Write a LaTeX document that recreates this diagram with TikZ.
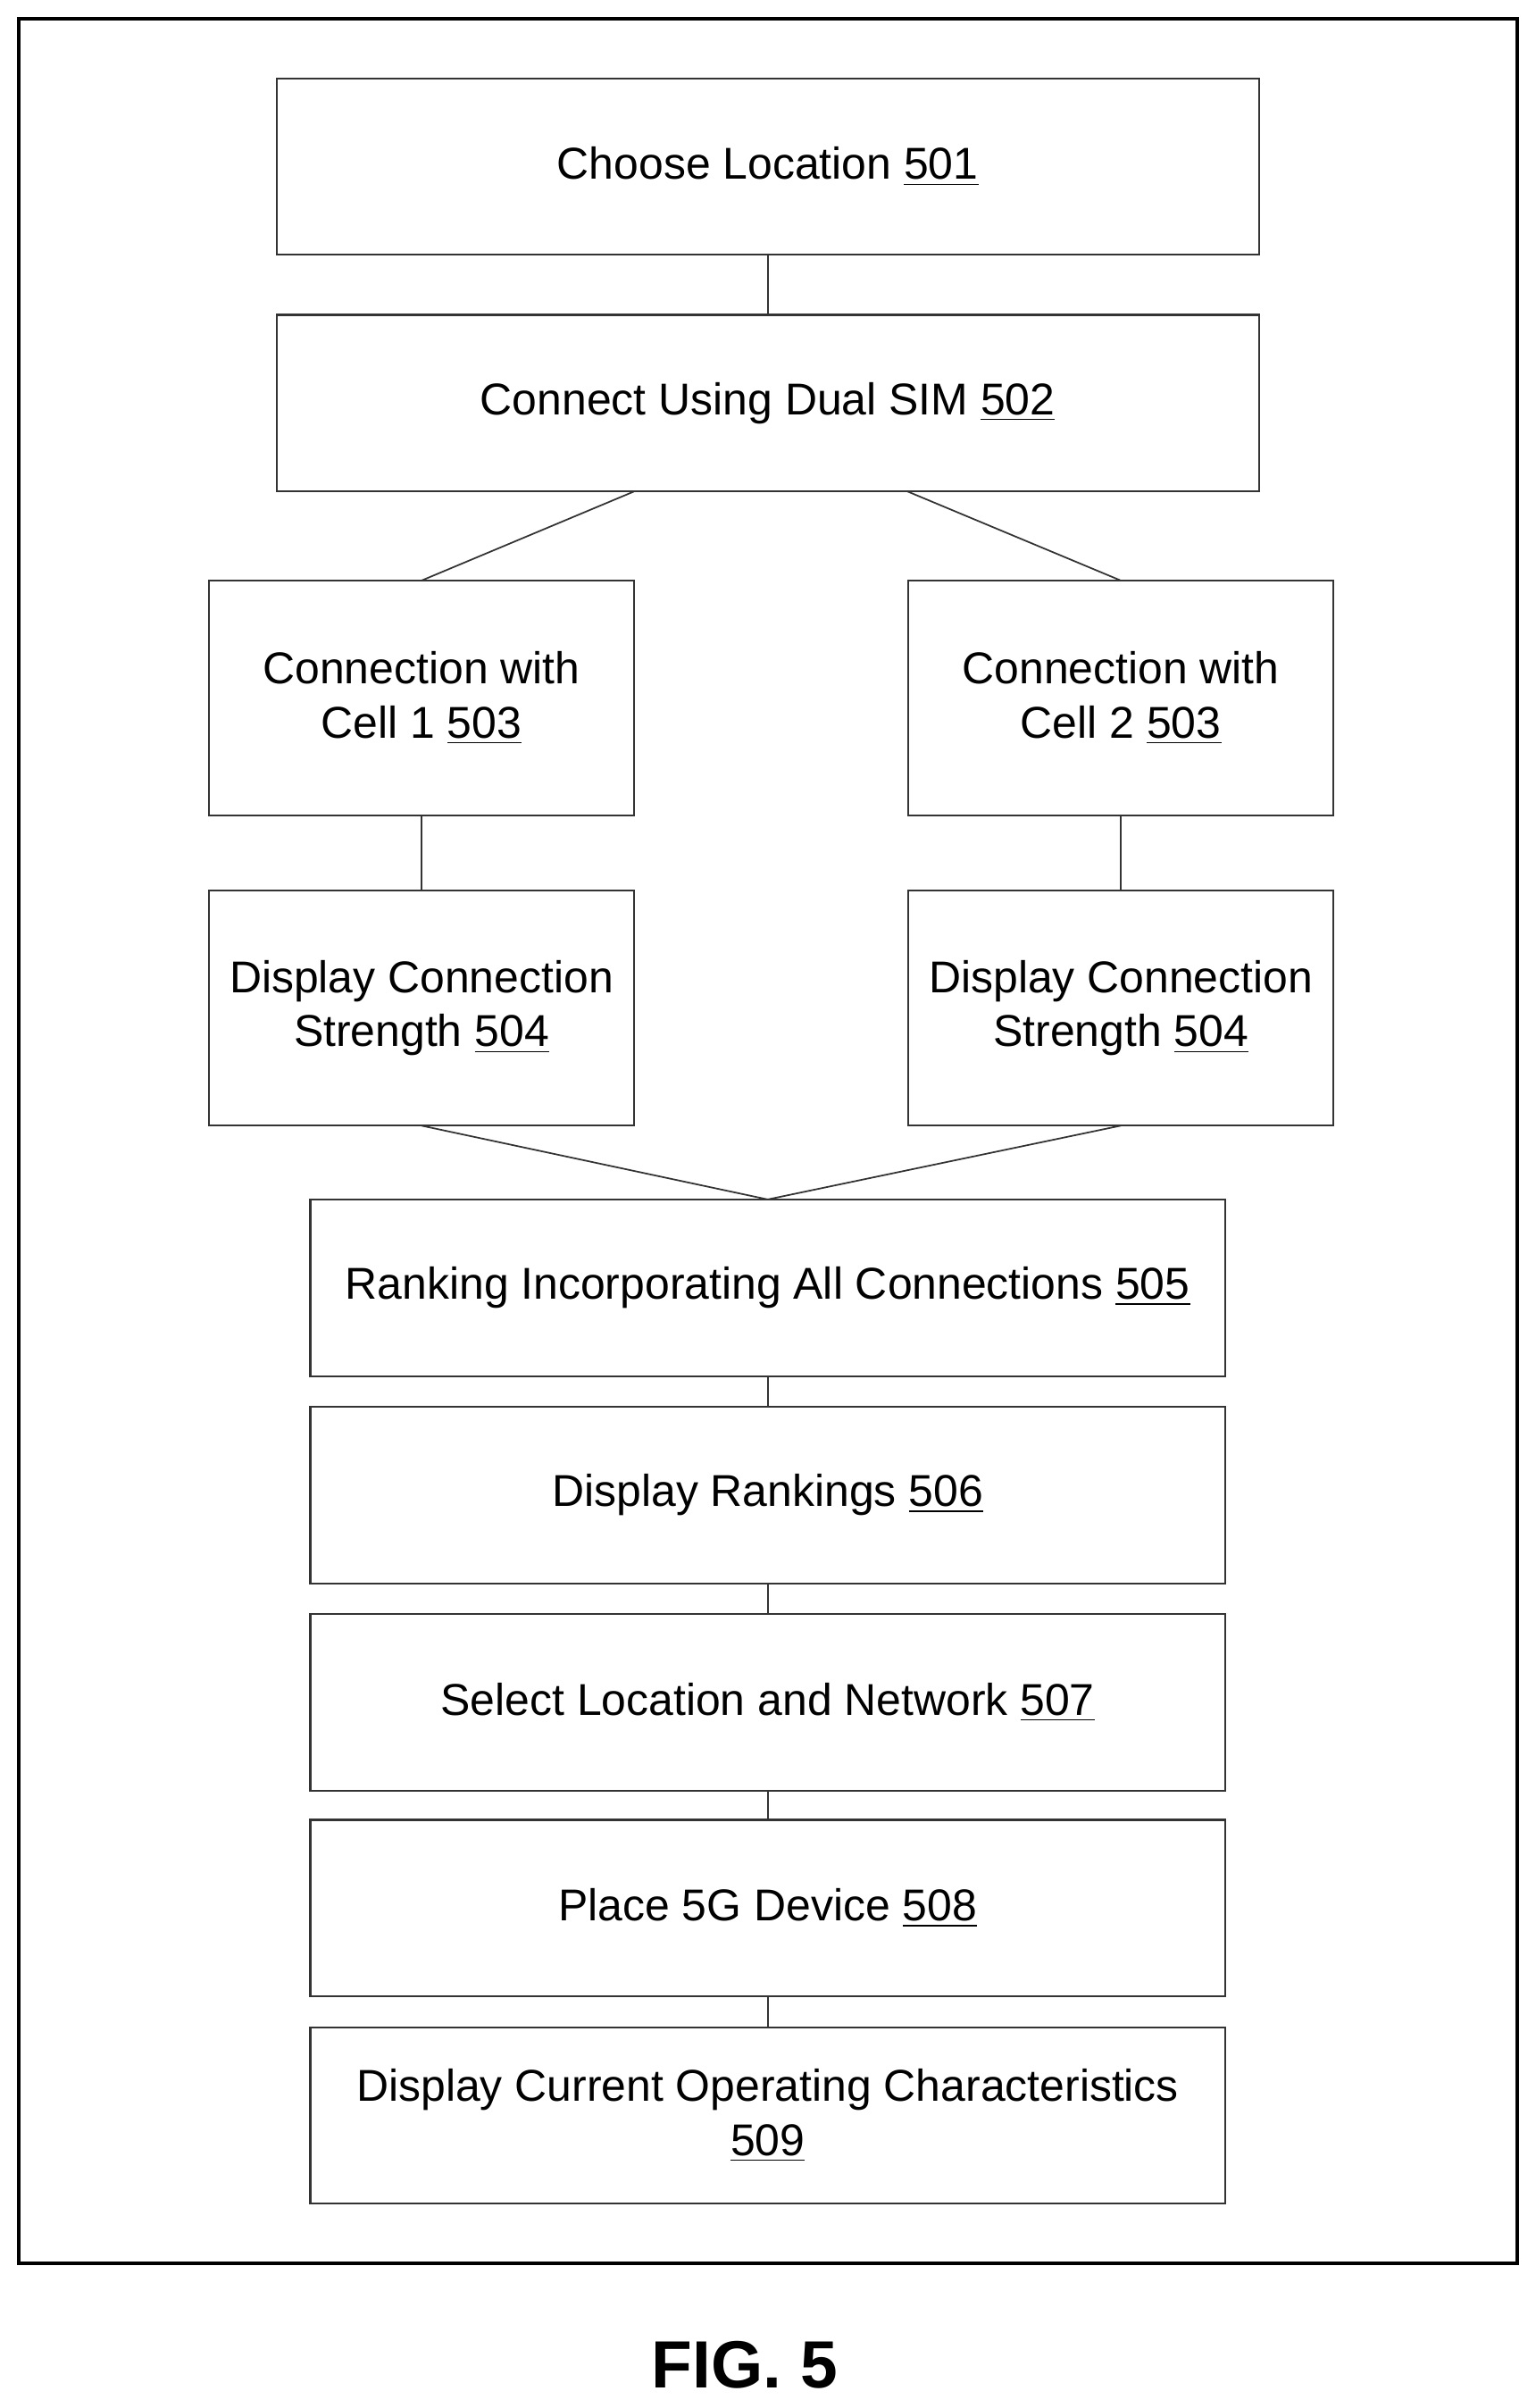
\documentclass[tikz,border=0pt]{standalone}
\usepackage{fontspec}
\setmainfont{Liberation Sans}
\usetikzlibrary{positioning}
\tikzset{
  stepbox/.style={rectangle, draw=black!80, line width=0.6pt, inner sep=0pt, outer sep=0pt,
    align=center, font=\fontsize{14.2}{17.2}\selectfont},
  wide/.style={stepbox, minimum width=11.0cm, minimum height=1.977cm},
  mid/.style={stepbox, minimum width=10.245cm, minimum height=1.977cm},
  half/.style={stepbox, minimum width=4.762cm, minimum height=2.63cm},
  link/.style={draw=black!80, line width=0.5pt}
}
\begin{document}
\begin{tikzpicture}[x=0.01719cm, y=-0.01719cm]
\useasboundingbox (0,0) rectangle (1000,1568);
\draw[line width=1.1pt] (12,12) rectangle (988,1474);

\node[wide] (choose) at (500,108.5) {Choose Location \underline{501}};
\node[wide] (dual) at (500,262.5) {Connect Using Dual SIM \underline{502}};
\node[half] (cellA) at (274.5,454.5) {Connection with\\Cell 1 \underline{503}};
\node[half] (cellB) at (730,454.5) {Connection with\\Cell 2 \underline{503}};
\node[half] (strA) at (274.5,656.5) {Display Connection\\Strength \underline{504}};
\node[half] (strB) at (730,656.5) {Display Connection\\Strength \underline{504}};
\node[mid] (rank) at (500,838.5) {Ranking Incorporating All Connections \underline{505}};
\node[mid] (show) at (500,973.5) {Display Rankings \underline{506}};
\node[mid] (select) at (500,1108.5) {Select Location and Network \underline{507}};
\node[mid] (place) at (500,1242.5) {Place 5G Device \underline{508}};
\node[mid] (oper) at (500,1377.5) {Display Current Operating Characteristics\\\underline{509}};

\coordinate (dualL) at (413,320);
\coordinate (dualR) at (591,320);

\draw[link] (choose) -- (dual);
\draw[link] (dualL) -- (cellA.north);
\draw[link] (dualR) -- (cellB.north);
\draw[link] (cellA) -- (strA);
\draw[link] (cellB) -- (strB);
\draw[link] (strA.south) -- (rank.north);
\draw[link] (strB.south) -- (rank.north);
\draw[link] (rank) -- (show);
\draw[link] (show) -- (select);
\draw[link] (select) -- (place);
\draw[link] (place) -- (oper);

\node[font=\fontsize{21.3}{25}\selectfont\bfseries] (fig) at (485,1540) {FIG. 5};
\end{tikzpicture}
\end{document}
